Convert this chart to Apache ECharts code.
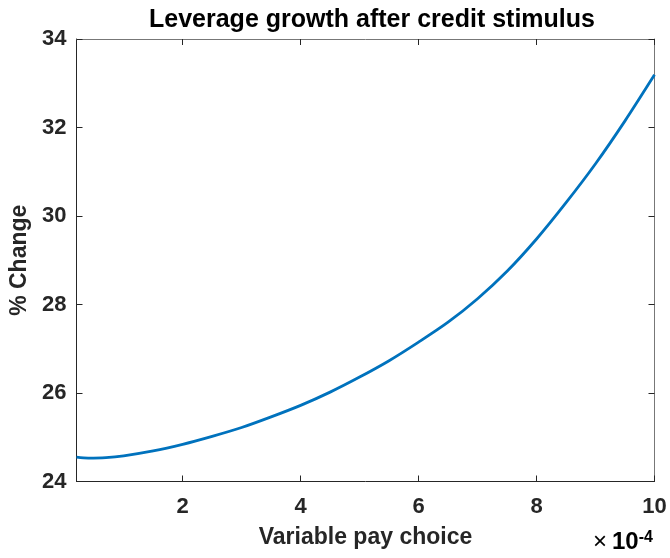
<!DOCTYPE html>
<html>
<head>
<meta charset="utf-8">
<script src="https://cdn.jsdelivr.net/npm/echarts@6/dist/echarts.min.js"></script>
<style>
  html, body { margin: 0; padding: 0; background: #fff; }
  #chart { width: 670px; height: 558px; }
</style>
</head>
<body>
<div id="chart"></div>
<script>
// x values in units of 1e-4
const payChoice = [0.2, 0.4, 0.7, 1.0, 1.5, 2.0, 2.5, 3.0, 3.5, 4.0, 4.5, 5.0, 5.5, 6.0, 6.5, 7.0, 7.5, 8.0, 8.5, 9.0, 9.5, 10.0]
const pctChange = [24.55, 24.53, 24.54, 24.58, 24.69, 24.84, 25.02, 25.22, 25.46, 25.72, 26.02, 26.36, 26.73, 27.15, 27.60, 28.13, 28.75, 29.48, 30.30, 31.18, 32.15, 33.19]
const xTicks = [2, 4, 6, 8, 10]

const FONT = '"Liberation Sans", Arial, Helvetica, sans-serif'
const DARK = '#262626'

const chart = echarts.init(document.getElementById('chart'))

const boxAxis = {
  axisLine: { show: true, lineStyle: { color: DARK, width: 1 } },
  axisTick: { show: true, inside: true, length: 6, lineStyle: { color: DARK } },
  splitLine: { show: false }
}

chart.setOption({
  animation: false,
  title: {
    text: 'Leverage growth after credit stimulus',
    left: 144,
    top: 3,
    textStyle: { fontFamily: FONT, fontSize: 25, fontWeight: 'bold', color: '#000' }
  },
  grid: { left: 76.5, right: 15.5, top: 39, bottom: 76.5, containLabel: false },
  xAxis: [
    {
      ...boxAxis,
      type: 'value',
      min: 0.2,
      max: 10,
      axisTick: { ...boxAxis.axisTick, customValues: xTicks },
      axisLabel: {
        customValues: xTicks,
        margin: 14,
        fontFamily: FONT, fontSize: 22, fontWeight: 'bold', color: DARK
      },
      name: 'Variable pay choice',
      nameLocation: 'middle',
      nameGap: 45,
      nameTextStyle: { fontFamily: FONT, fontSize: 23, fontWeight: 'bold', color: DARK }
    },
    {
      ...boxAxis,
      type: 'value',
      position: 'top',
      min: 0.2,
      max: 10,
      axisLine: { show: true, lineStyle: { color: '#777', width: 1 } },
      axisTick: { ...boxAxis.axisTick, customValues: xTicks },
      axisLabel: { show: false }
    }
  ],
  yAxis: [
    {
      ...boxAxis,
      type: 'value',
      min: 24,
      max: 34,
      interval: 2,
      axisLabel: {
        margin: 10,
        fontFamily: FONT, fontSize: 22, fontWeight: 'bold', color: DARK
      },
      name: '% Change',
      nameLocation: 'middle',
      nameGap: 42,
      nameTextStyle: { fontFamily: FONT, fontSize: 23, fontWeight: 'bold', color: DARK }
    },
    {
      ...boxAxis,
      type: 'value',
      position: 'right',
      min: 24,
      max: 34,
      interval: 2,
      axisLine: { show: true, lineStyle: { color: '#777', width: 1 } },
      axisLabel: { show: false }
    }
  ],
  graphic: [
    {
      type: 'text',
      left: 593,
      top: 530,
      style: {
        text: '{x|×}{b|10}{s|-4}',
        rich: {
          x: { fontFamily: FONT, fontSize: 24, color: DARK, verticalAlign: 'bottom', padding: [0, 5, 0, 0] },
          b: { fontFamily: FONT, fontSize: 24, fontWeight: 'bold', color: DARK, verticalAlign: 'bottom' },
          s: { fontFamily: FONT, fontSize: 16, fontWeight: 'bold', color: DARK, verticalAlign: 'top' }
        }
      }
    }
  ],
  series: [
    {
      type: 'line',
      data: payChoice.map((x, i) => [x, pctChange[i]]),
      showSymbol: false,
      smooth: 0.3,
      lineStyle: { color: '#0072BD', width: 2.8 },
      itemStyle: { color: '#0072BD' }
    }
  ]
})
</script>
</body>
</html>
